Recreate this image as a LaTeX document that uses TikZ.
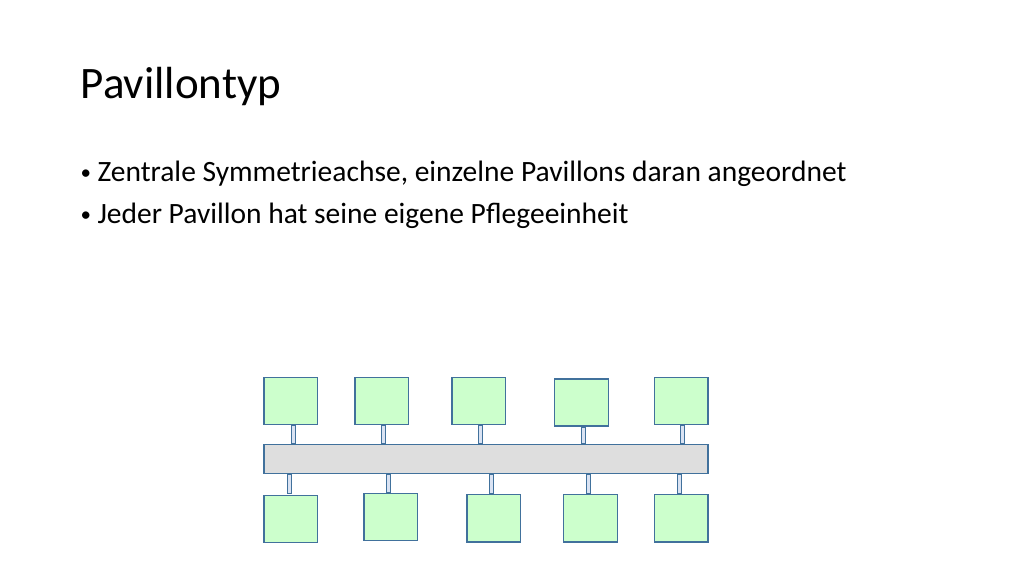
\documentclass[tikz,border=0pt]{standalone}
\usepackage{fontspec}
\setmainfont{Carlito}
\definecolor{boxgreen}{HTML}{CCFFCC}
\definecolor{edgeblue}{HTML}{41719C}
\definecolor{bargray}{HTML}{DEDEDE}
\definecolor{connfill}{HTML}{DAE3F3}
\newcommand{\blt}{\makebox[17.3pt][l]{\hspace{0.5pt}{\fontsize{21}{21}\selectfont\raisebox{2.2pt}{•}}}}
\begin{document}
\begin{tikzpicture}[x=1pt,y=-1pt,
  pav/.style={draw=edgeblue,fill=boxgreen,line width=1.3pt,minimum width=53.7pt,minimum height=47.2pt,inner sep=0pt},
  axis/.style={draw=edgeblue,fill=bargray,line width=1.3pt,minimum width=444.1pt,minimum height=28.7pt,inner sep=0pt},
  conn/.style={draw=edgeblue,fill=connfill,line width=1pt},
  txt/.style={anchor=base west,inner sep=0pt,text=black}]
\useasboundingbox (0,0) rectangle (1024,576);
\node[txt,font=\fontsize{45}{50}\selectfont] (title) at (80.5,98.3) {Pavillontyp};
\node[txt,font=\fontsize{29.5}{34}\selectfont] (l1) at (80,181.7) {\blt Zentrale Symmetrieachse, einzelne Pavillons daran angeordnet};
\node[txt,font=\fontsize{29.5}{34}\selectfont] (l2) at (80,223.3) {\blt Jeder Pavillon hat seine eigene Pflegeeinheit};
% central axis
\node[axis] (bar) at (486,459) {};
% top pavilions
\node[pav] (t1) at (290.8,400.8) {};
\node[pav] (t2) at (381.8,400.8) {};
\node[pav] (t3) at (478.8,400.8) {};
\node[pav] (t4) at (581.3,402.5) {};
\node[pav] (t5) at (681.2,400.8) {};
% bottom pavilions
\node[pav] (b1) at (290.8,518.8) {};
\node[pav] (b2) at (390.8,517.2) {};
\node[pav] (b3) at (493.7,518.3) {};
\node[pav] (b4) at (590.3,518.3) {};
\node[pav] (b5) at (681.2,518.3) {};
% connector ends
\coordinate (ct1) at ([xshift=2.2pt,yshift=-0.7pt]t1.south);
\coordinate (ct2) at ([xshift=1.5pt,yshift=-0.7pt]t2.south);
\coordinate (ct3) at ([xshift=1.5pt,yshift=-0.7pt]t3.south);
\coordinate (ct4) at ([xshift=1.9pt,yshift=-0.7pt]t4.south);
\coordinate (ct5) at ([xshift=1.6pt,yshift=-0.7pt]t5.south);
\coordinate (cb1) at ([xshift=-1.8pt,yshift=0.7pt]b1.north);
\coordinate (cb2) at ([xshift=-2pt,yshift=0.7pt]b2.north);
\coordinate (cb3) at ([xshift=-2.2pt,yshift=0.7pt]b3.north);
\coordinate (cb4) at ([xshift=-1.8pt,yshift=0.7pt]b4.north);
\coordinate (cb5) at ([xshift=-1.9pt,yshift=0.7pt]b5.north);
\foreach \c in {ct1,ct2,ct3,ct4,ct5}{
  \path ([yshift=0.7pt]\c |- bar.north) coordinate (\c e);
  \draw[conn] ([xshift=-2pt]\c) rectangle ([xshift=2pt]\c e);
}
\foreach \c in {cb1,cb2,cb3,cb4,cb5}{
  \path ([yshift=-0.7pt]\c |- bar.south) coordinate (\c e);
  \draw[conn] ([xshift=-2pt]\c) rectangle ([xshift=2pt]\c e);
}
\end{tikzpicture}
\end{document}
